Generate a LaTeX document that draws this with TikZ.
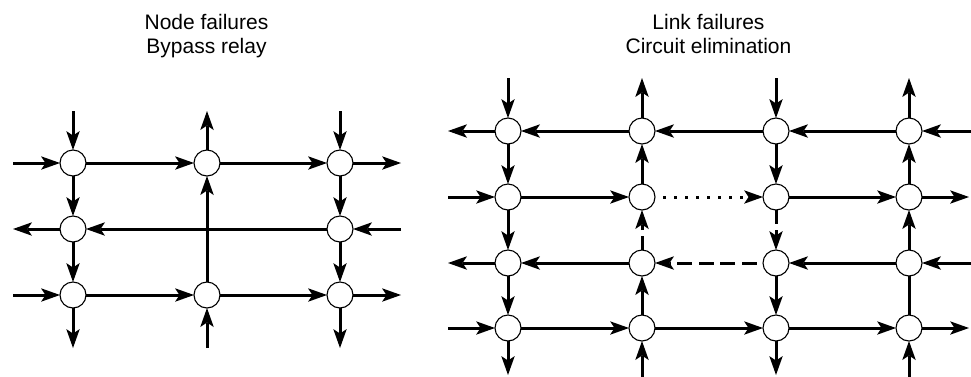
\documentclass[tikz,border=0pt]{standalone}
\usepackage{fontspec}
\setmainfont{Liberation Sans}
\usetikzlibrary{arrows.meta}
\begin{document}
\begin{tikzpicture}[x=1pt,y=-1pt,
  nd/.style={circle,draw,line width=1.1pt,fill=white,minimum size=26pt,inner sep=0pt,outer sep=0pt},
  ln/.style={line width=3pt,-{Stealth[length=19pt,width=13.5pt,inset=4.5pt,line width=0pt]}},
  plain/.style={line width=3pt},
  dotln/.style={ln,dash pattern=on 2.8pt off 8.2pt,dash phase=2.8pt},
  dashh/.style={ln,dash pattern=on 15pt off 6.5pt,dash phase=15pt},
  dashv/.style={ln,dash pattern=on 14pt off 6pt},
  title/.style={anchor=base,font=\fontsize{21}{25}\selectfont,inner sep=0pt}]
\clip (0,0) rectangle (971,376);
% titles
\node[title] (t1a) at (206.5,29.5) {Node failures};
\node[title] (t1b) at (206.5,53) {Bypass relay};
\node[title] (t2a) at (708.5,29.5) {Link failures};
\node[title] (t2b) at (708.5,53) {Circuit elimination};
% ---------- left diagram ----------
\foreach \c/\x in {1/73,2/207,3/340}{
  \foreach \r/\y in {1/163,3/295}{ \node[nd] (L\r\c) at (\x,\y) {}; }
  \coordinate (Ln\c) at (\x,111);
  \coordinate (Ls\c) at (\x,348);
}
\node[nd] (L21) at (73,229) {};
\node[nd] (L23) at (340,229) {};
\foreach \r/\y in {1/163,2/229,3/295}{
  \coordinate (Lw\r) at (13,\y);
  \coordinate (Le\r) at (401,\y);
}
% row 1
\draw[ln] (Lw1) -- (L11);
\draw[ln] (L11) -- (L12);
\draw[ln] (L12) -- (L13);
\draw[ln] (L13) -- (Le1);
% row 2
\draw[ln] (Le2) -- (L23);
\draw[ln] (L23) -- (L21);
\draw[ln] (L21) -- (Lw2);
% row 3
\draw[ln] (Lw3) -- (L31);
\draw[ln] (L31) -- (L32);
\draw[ln] (L32) -- (L33);
\draw[ln] (L33) -- (Le3);
% col 1
\draw[ln] (Ln1) -- (L11);
\draw[ln] (L11) -- (L21);
\draw[ln] (L21) -- (L31);
\draw[ln] (L31) -- (Ls1);
% col 2
\draw[ln] (Ls2) -- (L32);
\draw[ln] (L32) -- (L12);
\draw[ln] (L12) -- (Ln2);
% col 3
\draw[ln] (Ln3) -- (L13);
\draw[ln] (L13) -- (L23);
\draw[ln] (L23) -- (L33);
\draw[ln] (L33) -- (Ls3);
% ---------- right diagram ----------
\foreach \c/\x in {1/508,2/642,3/776,4/909}{
  \foreach \r/\y in {1/131,2/197,3/263,4/328}{ \node[nd] (R\r\c) at (\x,\y) {}; }
  \coordinate (Rn\c) at (\x,78);
}
\coordinate (Rs1) at (508,375);
\coordinate (Rs2) at (642,378);
\coordinate (Rs3) at (776,375);
\coordinate (Rs4) at (909,378);
\foreach \r/\y in {1/131,2/197,3/263,4/328}{ \coordinate (Rw\r) at (448,\y); }
\coordinate (Re1) at (973,131);
\coordinate (Re2) at (969,197);
\coordinate (Re3) at (973,263);
\coordinate (Re4) at (969,328);
% row 1 (leftward)
\draw[ln] (Re1) -- (R14);
\draw[ln] (R14) -- (R13);
\draw[ln] (R13) -- (R12);
\draw[ln] (R12) -- (R11);
\draw[ln] (R11) -- (Rw1);
% row 2 (rightward)
\draw[ln] (Rw2) -- (R21);
\draw[ln] (R21) -- (R22);
\draw[dotln] (R22) -- (R23);
\draw[ln] (R23) -- (R24);
\draw[ln] (R24) -- (Re2);
% row 3 (leftward)
\draw[ln] (Re3) -- (R34);
\draw[ln] (R34) -- (R33);
\draw[dashh] (R33) -- (R32);
\draw[ln] (R32) -- (R31);
\draw[ln] (R31) -- (Rw3);
% row 4 (rightward)
\draw[ln] (Rw4) -- (R41);
\draw[ln] (R41) -- (R42);
\draw[ln] (R42) -- (R43);
\draw[ln] (R43) -- (R44);
\draw[ln] (R44) -- (Re4);
% col 1 (down)
\draw[ln] (Rn1) -- (R11);
\draw[ln] (R11) -- (R21);
\draw[ln] (R21) -- (R31);
\draw[ln] (R31) -- (R41);
\draw[ln] (R41) -- (Rs1);
% col 2 (up)
\draw[ln] (Rs2) -- (R42);
\draw[ln] (R42) -- (R32);
\draw[dashv] (R32) -- (R22);
\draw[ln] (R22) -- (R12);
\draw[ln] (R12) -- (Rn2);
% col 3 (down)
\draw[ln] (Rn3) -- (R13);
\draw[ln] (R13) -- (R23);
\draw[dashv] (R23) -- (R33);
\draw[ln] (R33) -- (R43);
\draw[ln] (R43) -- (Rs3);
% col 4 (up)
\draw[ln] (Rs4) -- (R44);
\draw[plain] (R44) -- (R34);
\draw[ln] (R34) -- (R24);
\draw[ln] (R24) -- (R14);
\draw[ln] (R14) -- (Rn4);
\end{tikzpicture}
\end{document}
